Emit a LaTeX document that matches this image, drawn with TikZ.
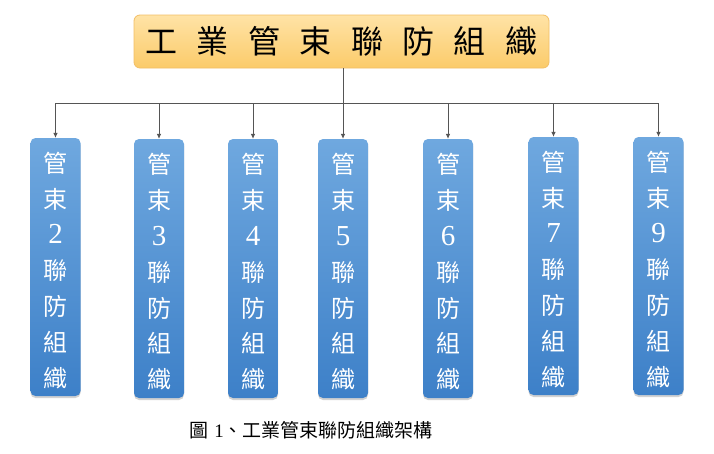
\documentclass[tikz,border=0pt]{standalone}
\usepackage{fontspec}
\setmainfont{Liberation Serif}
\newfontfamily\cjk{Noto Sans CJK TC}
\usetikzlibrary{arrows.meta,shadows}
\definecolor{linegray}{HTML}{555555}
\definecolor{blueTop}{HTML}{6FA8DF}
\definecolor{blueBot}{HTML}{3D80C8}
\definecolor{orTop}{HTML}{FFE3A6}
\definecolor{orBot}{HTML}{FBCB6A}
\definecolor{orEdge}{HTML}{F2BF66}
\tikzset{
  topbox/.style={rounded corners=6pt, draw=orEdge, line width=0.8pt,
    top color=orTop, bottom color=orBot, minimum width=415pt, minimum height=53pt,
    inner sep=0pt, font=\cjk\fontsize{32}{34}\selectfont, text=black},
  unitbox/.style={rounded corners=5pt, draw=none, top color=blueTop, bottom color=blueBot,
    minimum width=50pt, inner sep=0pt, align=center, text=white,
    font=\cjk\fontsize{24}{35.8}\selectfont,
    drop shadow={opacity=0.35, shadow xshift=0pt, shadow yshift=-2pt, fill=gray}},
  conn/.style={draw=linegray, line width=0.7pt},
  arr/.style={conn, -{Latex[length=5pt,width=4.5pt]}},
}
\newcommand{\unittext}[1]{\rule{0pt}{27pt}管\\束\\{\rmfamily\fontsize{29}{35.8}\selectfont #1}\\聯\\防\\組\\織}
\begin{document}
\begin{tikzpicture}[x=1pt,y=-1pt]
\useasboundingbox (0,0) rectangle (714,453);
\fill[white] (0,0) rectangle (714,453);
\node[topbox] (top) at (341.5,41.5) {工\kern19.4pt 業\kern19.4pt 管\kern19.4pt 束\kern19.4pt 聯\kern19.4pt 防\kern19.4pt 組\kern19.4pt 織};
\node[unitbox, minimum height=258pt] (b2) at (55.5,267) {\unittext{2}};
\node[unitbox, minimum height=259pt] (b3) at (159,268.5) {\unittext{3}};
\node[unitbox, minimum height=259pt] (b4) at (253,268.5) {\unittext{4}};
\node[unitbox, minimum height=259pt] (b5) at (343,268.5) {\unittext{5}};
\node[unitbox, minimum height=259pt] (b6) at (448,268.5) {\unittext{6}};
\node[unitbox, minimum height=258pt] (b7) at (553.5,266) {\unittext{7}};
\node[unitbox, minimum height=258pt] (b9) at (658.5,266) {\unittext{9}};
\coordinate (bus) at (343,103);
\draw[conn] (bus |- top.south) -- (bus);
\draw[conn] (b2.north |- bus) -- (b9.north |- bus);
\foreach \b in {b2,b3,b4,b5,b6,b7,b9}{
  \draw[arr] (\b.north |- bus) -- (\b.north);
}
\node[font=\cjk\fontsize{19}{21}\selectfont, inner sep=0pt] (cap) at (311,430) {圖\kern6pt{\rmfamily 1}、工業管束聯防組織架構};
\end{tikzpicture}
\end{document}
